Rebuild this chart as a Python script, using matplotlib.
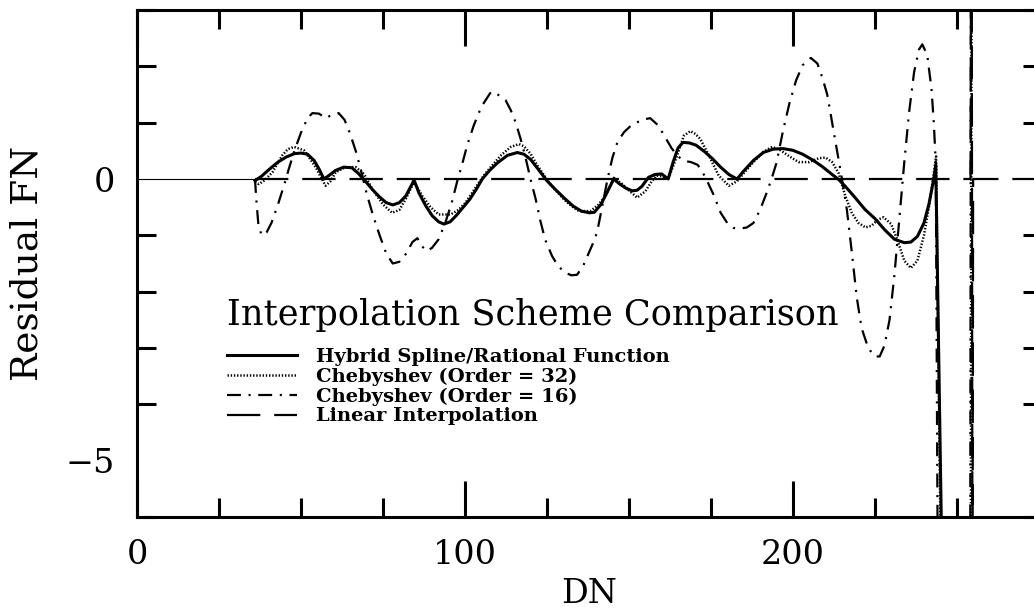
import matplotlib.pyplot as plt
import matplotlib.ticker as mticker

plt.rcParams["font.family"] = "DejaVu Serif"
plt.rcParams["lines.scale_dashes"] = False

# Residuos por esquema de interpolación (DN, Residual FN)
hibrido_x = [36, 38, 40.5, 43, 45.5, 48, 50, 52, 54, 55.5, 57, 58.5, 60.5, 63, 65.5, 67.5,
             69.5, 72, 74, 76, 78, 80, 82, 84.5, 86, 88, 90, 92, 93.6, 95.5, 97.5, 99.5,
             101.5, 103.5, 105.3, 107.5, 110, 113, 116, 118, 120, 122, 125, 127.5, 130.5,
             133, 135.5, 138, 139.5, 141.5, 143.5, 145.4, 147, 149, 151, 152.5, 154, 156,
             158, 160, 162, 163.5, 165, 166.5, 168.5, 170.5, 173, 175.5, 178, 180.5, 183,
             185, 188, 191, 194, 197, 200, 203, 206, 209, 212, 214, 216, 219, 222, 225,
             228, 231, 234, 236, 238, 240, 241.5, 243, 243.6, 245.8]
hibrido_y = [-0.03, 0.05, 0.18, 0.3, 0.39, 0.45, 0.46, 0.44, 0.33, 0.18, 0.0, 0.06, 0.15,
             0.21, 0.2, 0.1, -0.03, -0.2, -0.32, -0.42, -0.46, -0.42, -0.3, -0.02, -0.25,
             -0.47, -0.65, -0.76, -0.8, -0.76, -0.64, -0.5, -0.36, -0.18, 0.0, 0.15, 0.29,
             0.42, 0.47, 0.44, 0.35, 0.2, -0.03, -0.18, -0.35, -0.48, -0.57, -0.6, -0.59,
             -0.45, -0.22, 0.0, -0.08, -0.16, -0.21, -0.2, -0.13, 0.03, 0.08, 0.09, 0.0,
             0.3, 0.55, 0.65, 0.64, 0.6, 0.49, 0.36, 0.21, 0.08, 0.0, 0.14, 0.33, 0.47,
             0.53, 0.54, 0.51, 0.44, 0.34, 0.22, 0.08, -0.01, -0.13, -0.33, -0.54, -0.7,
             -0.9, -1.07, -1.13, -1.12, -1.02, -0.78, -0.45, 0.0, 0.25, -8.0]

cheb32_x = [36, 37.2, 39, 41.3, 44.3, 46, 47.9, 50.9, 52.5, 54.5, 56, 57.5, 59, 60.6, 63.6,
            66.7, 69.2, 72, 75, 77.8, 80, 82, 84.5, 87, 89.5, 92, 95.6, 98, 100.2, 102.5,
            104.3, 106, 108.3, 111, 114, 116.5, 118, 120, 122, 125.6, 128, 130.2, 132.5,
            134.8, 138.3, 140.5, 142.9, 145.4, 148, 150, 152.5, 155, 157, 158.5, 160, 162,
            164, 166.8, 168.8, 170.3, 171.8, 174.4, 177.4, 180.5, 183, 185, 188, 191,
            193.7, 196, 199, 201.8, 205, 208, 210, 212, 214, 216, 218, 220, 222.2, 224,
            226, 227.7, 230, 232, 234, 236, 238, 240, 241.5, 243, 243.7, 245.4, 254.3,
            254.6]
cheb32_y = [-0.05, -0.09, -0.02, 0.12, 0.42, 0.53, 0.57, 0.51, 0.38, 0.21, 0.04, -0.12,
            -0.04, 0.12, 0.21, 0.21, 0.09, -0.2, -0.45, -0.6, -0.55, -0.35, -0.05, -0.3,
            -0.5, -0.63, -0.63, -0.55, -0.42, -0.22, -0.06, 0.08, 0.24, 0.42, 0.57, 0.62,
            0.58, 0.45, 0.25, -0.06, -0.22, -0.36, -0.48, -0.57, -0.57, -0.47, -0.3, 0.02,
            -0.09, -0.2, -0.33, -0.22, -0.04, 0.06, 0.05, 0.0, 0.3, 0.77, 0.85, 0.8, 0.71,
            0.42, 0.06, -0.12, -0.04, 0.1, 0.3, 0.48, 0.57, 0.52, 0.4, 0.3, 0.3, 0.37,
            0.38, 0.3, 0.1, -0.3, -0.6, -0.78, -0.86, -0.83, -0.72, -0.68, -0.8, -1.1,
            -1.45, -1.58, -1.45, -1.0, -0.5, 0.1, 0.4, -8.0, -8.0, 8.0]

cheb16_x = [36, 36.3, 37, 38, 39.5, 41, 43, 44.8, 46.3, 48, 50, 52, 53.5, 55.5, 57.5, 59.5,
            61.5, 63.3, 65, 66.7, 68.2, 70, 72, 74, 76, 78, 80, 82, 84, 85.5, 87, 88.5, 90,
            92, 94, 96, 97.7, 99.2, 100.7, 102.7, 105, 108, 110, 112.4, 114, 115.5, 117,
            118.5, 120, 121.6, 123, 124.5, 126.6, 128.5, 130.5, 132.5, 134.2, 136, 137.8,
            139, 140.3, 142, 143.5, 145, 146.5, 148.5, 150.5, 152, 154, 156.5, 159, 161,
            163, 165, 167, 169, 171, 172.5, 174, 176, 178, 180, 182, 184, 186, 188, 190,
            192, 193.5, 195, 197, 199, 201, 203, 205.5, 207.5, 209, 210.5, 212, 213.5, 215,
            216.5, 218, 219.5, 221, 223, 225, 226.5, 228, 229.5, 231, 232.5, 234, 235.5,
            237, 238.5, 239.5, 241, 242.3, 243, 243.6, 244.3, 254.1, 254.4]
cheb16_y = [0.0, -0.3, -0.8, -1.0, -0.95, -0.78, -0.45, -0.12, 0.18, 0.5, 0.82, 1.08,
            1.17, 1.16, 1.08, 1.14, 1.17, 1.05, 0.8, 0.5, 0.18, -0.25, -0.65, -1.0, -1.32,
            -1.5, -1.47, -1.33, -1.12, -1.05, -1.2, -1.28, -1.22, -1.07, -0.78, -0.42,
            -0.03, 0.27, 0.6, 0.95, 1.28, 1.55, 1.5, 1.4, 1.22, 1.0, 0.71, 0.38, 0.0, -0.36,
            -0.74, -1.08, -1.37, -1.55, -1.66, -1.71, -1.7, -1.55, -1.31, -1.15, -0.95,
            -0.45, 0.0, 0.38, 0.65, 0.83, 0.94, 0.99, 1.05, 1.08, 0.95, 0.75, 0.55, 0.4,
            0.32, 0.3, 0.25, 0.12, -0.05, -0.3, -0.6, -0.78, -0.87, -0.88, -0.86, -0.78,
            -0.55, -0.25, 0.0, 0.28, 0.85, 1.35, 1.75, 2.02, 2.15, 2.05, 1.8, 1.5, 1.0,
            0.5, 0.0, -0.55, -1.3, -2.1, -2.65, -3.0, -3.15, -3.15, -2.95, -2.5, -1.7,
            -0.7, 0.3, 1.2, 1.9, 2.3, 2.39, 2.2, 1.6, 1.0, 0.3, -8.0, -8.0, 8.0]

lineal_x = [36, 254.2, 254.5, 254.8, 255.0, 276]
lineal_y = [0, 0, 8.0, -8.0, 0, 0]

# tramo de referencia en cero antes del primer punto
cero_x = [0, 36]
cero_y = [0, 0]

etiquetas = [
    "Hybrid Spline/Rational Function",
    "Chebyshev (Order = 32)",
    "Chebyshev (Order = 16)",
    "Linear Interpolation",
]

fig = plt.figure(figsize=(10.34, 6.11), dpi=100)
ax = fig.add_axes([137 / 1034, 94 / 611, 905 / 1034, 507 / 611])

ax.plot(cero_x, cero_y, color="black", lw=0.8)
l1, = ax.plot(hibrido_x, hibrido_y, color="black", lw=2.2, label=etiquetas[0])
l2, = ax.plot(cheb32_x, cheb32_y, color="black", lw=1.8, label=etiquetas[1])
l2.set_dashes([1.0, 1.3])
l3, = ax.plot(cheb16_x, cheb16_y, color="black", lw=1.6, label=etiquetas[2])
l3.set_dashes([10, 5.5, 1.5, 5.5])
l4, = ax.plot(lineal_x, lineal_y, color="black", lw=1.6, label=etiquetas[3])
l4.set_dashes([24, 10])

ax.set_xlim(0, 276)
ax.set_ylim(-6, 3)

ax.xaxis.set_major_locator(mticker.FixedLocator([0, 100, 200]))
ax.xaxis.set_minor_locator(mticker.MultipleLocator(25))
ax.yaxis.set_major_locator(mticker.FixedLocator([-5, 0]))
ax.yaxis.set_minor_locator(mticker.MultipleLocator(1))

ax.tick_params(which="both", direction="in", top=True, right=True, width=2.2,
               labelsize=24)
ax.tick_params(which="major", length=26, pad=16)
ax.tick_params(which="minor", length=13.5)

# sin marca en y = 0, la línea de cero ya está
for t in ax.yaxis.get_major_ticks():
    if abs(t.get_loc()) < 1e-9:
        t.tick1line.set_visible(False)
        t.tick2line.set_visible(False)

for s in ax.spines.values():
    s.set_linewidth(2.2)

ax.set_xlabel("DN", fontsize=24, labelpad=5)
ax.set_ylabel("Residual FN", fontsize=27, labelpad=14)

ax.text(0.0994, 0.3787, "Interpolation Scheme Comparison", transform=ax.transAxes,
        fontsize=25.3, ha="left", va="baseline")
ax.legend(handles=[l1, l2, l3, l4], loc="upper left", bbox_to_anchor=(0.0994, 0.334),
          frameon=False, borderpad=0, borderaxespad=0, handlelength=3.6,
          handletextpad=1.0, labelspacing=0.09,
          prop={"family": "DejaVu Serif", "weight": "bold", "size": 14})

fig.savefig("out.png", dpi=100)
